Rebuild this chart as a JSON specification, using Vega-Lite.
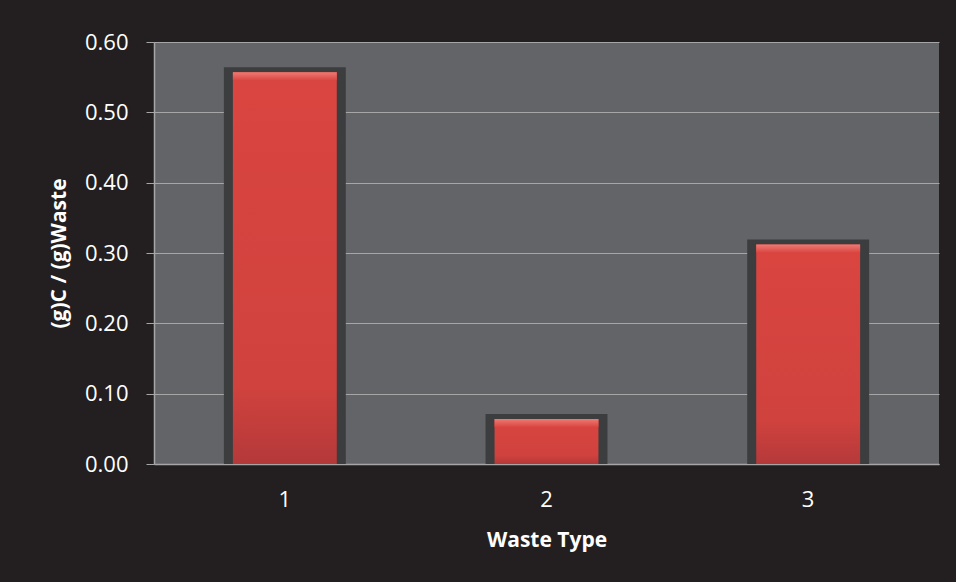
{
  "$schema": "https://vega.github.io/schema/vega-lite/v6.json",
  "autosize": {"type": "none"},
  "width": 785,
  "height": 422,
  "padding": {"left": 154, "top": 42, "right": 17, "bottom": 118},
  "background": "#231f20",
  "config": {
    "view": {"fill": "#636467", "stroke": null},
    "font": "Open Sans"
  },
  "data": {"values": [
    {"type": "1", "value": 0.557},
    {"type": "2", "value": 0.064},
    {"type": "3", "value": 0.312}
  ]},
  "encoding": {
    "x": {
      "field": "type", "type": "nominal",
      "scale": {"paddingInner": 0, "paddingOuter": 0},
      "axis": {
        "title": "Waste Type", "labelAngle": 0, "ticks": false,
        "labelFontSize": 22, "labelColor": "white", "labelPadding": 25,
        "titleFontSize": 21, "titleFontWeight": "bold", "titleColor": "white", "titlePadding": 19,
        "domainColor": "#a6a6a6", "domainWidth": 1.5, "grid": false
      }
    }
  },
  "layer": [
    {
      "mark": {"type": "bar", "color": "#3c3d3f", "width": {"band": 0.466}, "yOffset": -5, "y2Offset": 0},
      "encoding": {
        "y": {
          "field": "value", "type": "quantitative",
          "scale": {"domain": [0, 0.6]},
          "axis": {
            "title": "(g)C / (g)Waste", "values": [0, 0.1, 0.2, 0.3, 0.4, 0.5, 0.6], "format": ".2f",
            "labelFontSize": 22, "labelColor": "white", "labelPadding": 18,
            "tickSize": 8, "tickColor": "#a6a6a6", "domainColor": "#a6a6a6", "domainWidth": 1.5,
            "gridColor": "#a6a6a6", "gridWidth": 1.2,
            "titleFontSize": 21, "titleFontWeight": "bold", "titleColor": "white", "titlePadding": 15
          }
        },
        "y2": {"datum": 0}
      }
    },
    {
      "mark": {"type": "bar", "width": {"band": 0.397},
        "color": {"gradient": "linear", "x1": 0, "y1": 0, "x2": 0, "y2": 1,
          "stops": [{"offset": 0, "color": "#da4540"}, {"offset": 0.8, "color": "#d0423e"}, {"offset": 1, "color": "#b5393a"}]}},
      "encoding": {"y": {"field": "value", "type": "quantitative"}}
    },
    {
      "mark": {"type": "bar", "width": {"band": 0.397}, "y2Offset": 8,
        "color": {"gradient": "linear", "x1": 0, "y1": 0, "x2": 0, "y2": 1,
          "stops": [{"offset": 0, "color": "#ee7a74"}, {"offset": 1, "color": "#db4641"}]}},
      "encoding": {
        "y": {"field": "value", "type": "quantitative"},
        "y2": {"field": "value"}
      }
    }
  ]
}
